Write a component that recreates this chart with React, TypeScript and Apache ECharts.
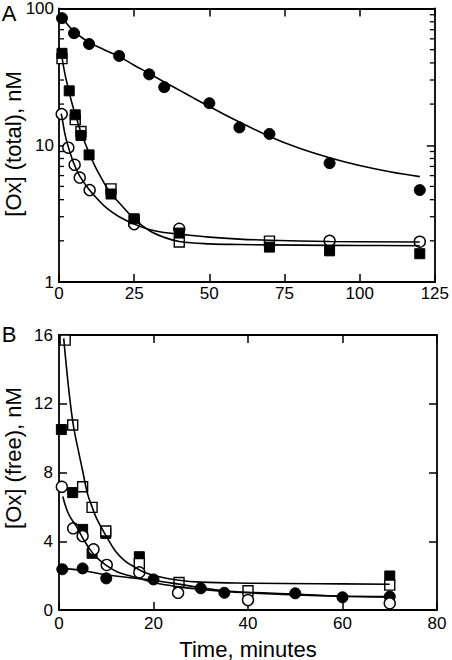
import React, { useEffect, useRef } from "react";
import * as echarts from "echarts";

// ---------- Panel A : [Ox] (total), nM  (log scale) ----------
const aFilledCircleT = [1, 5, 10, 20, 30, 35, 50, 60, 70, 90, 120];
const aFilledCircleV = [85, 66, 55, 45, 33, 26.6, 20.3, 13.5, 12.1, 7.4, 4.7];

const aFilledSquareT = [1, 3.4, 5.4, 7.3, 10, 17.3, 25, 40, 70, 90, 120];
const aFilledSquareV = [47, 25, 16.7, 11.8, 8.5, 4.4, 2.9, 2.28, 1.8, 1.69, 1.61];

const aOpenSquareT = [1, 5.4, 7.3, 17.3, 25, 40, 70];
const aOpenSquareV = [43, 15.4, 12.6, 4.8, 2.8, 1.96, 1.99];

const aOpenCircleT = [0.9, 3.1, 5.2, 6.9, 10.2, 25, 40, 90, 120];
const aOpenCircleV = [16.9, 9.6, 7.2, 5.8, 4.7, 2.65, 2.45, 2.0, 1.97];

// fitted curves
const aFitFilledCircleT = [1, 5, 10, 15, 20, 25, 30, 35, 40, 45, 50, 55, 60, 70, 80, 90, 100, 110, 120];
const aFitFilledCircleV = [86, 68, 56.5, 50, 44.5, 38.5, 33.5, 29, 25.3, 22, 19.2, 16.8, 14.8, 11.6, 9.5, 8.1, 7.1, 6.4, 5.9];

const aFitSquareT = [1, 2, 3, 4, 5, 6, 7, 8, 10, 12, 14, 17, 20, 25, 30, 35, 40, 50, 60, 80, 100, 120];
const aFitSquareV = [44, 33, 26.5, 21.5, 18, 15.3, 13, 11.3, 8.8, 7, 5.8, 4.5, 3.8, 2.9, 2.38, 2.12, 1.98, 1.9, 1.88, 1.86, 1.85, 1.84];

const aFitOpenCircleT = [0.7, 1, 2, 3, 4, 5, 7, 10, 13, 16, 20, 25, 30, 35, 40, 50, 60, 70, 90, 120];
const aFitOpenCircleV = [17, 16, 12, 9.9, 8.4, 7.3, 5.9, 4.75, 4.0, 3.45, 3.0, 2.65, 2.42, 2.3, 2.24, 2.13, 2.06, 2.02, 1.98, 1.96];

const aMinorTicks = [2, 3, 4, 5, 6, 7, 8, 9, 20, 30, 40, 50, 60, 70, 80, 90];

// ---------- Panel B : [Ox] (free), nM ----------
const bFilledCircleT = [0.7, 5, 10, 20, 30, 35, 50, 60, 70];
const bFilledCircleV = [2.37, 2.42, 1.84, 1.78, 1.26, 1.0, 0.97, 0.74, 0.78];

const bFilledSquareT = [0.5, 2.9, 5, 7, 9.9, 17, 70];
const bFilledSquareV = [10.5, 6.83, 4.69, 3.3, 4.46, 3.1, 1.98];

const bOpenSquareT = [1.3, 2.9, 5, 7, 9.9, 17, 25.4, 40, 70];
const bOpenSquareV = [15.7, 10.76, 7.17, 5.97, 4.6, 2.7, 1.6, 1.12, 1.45];

const bOpenCircleT = [0.6, 3, 5, 7.3, 10.1, 17, 25.2, 40, 70];
const bOpenCircleV = [7.17, 4.75, 4.3, 3.53, 2.62, 2.19, 1.0, 0.58, 0.39];

const bFitSquareT = [1, 2, 3, 4, 5, 6, 7, 8, 10, 12, 14, 16, 18, 21, 25, 30, 40, 55, 70];
const bFitSquareV = [15.8, 13, 10.8, 9.4, 8.1, 6.8, 6.0, 5.3, 4.3, 3.4, 2.85, 2.5, 2.2, 1.95, 1.75, 1.62, 1.56, 1.53, 1.5];

const bFitCircleT = [0.8, 2, 3.7, 5, 6.6, 8, 10, 12.5, 15.7, 20, 25, 30, 35, 40, 50, 60, 70];
const bFitCircleV = [6.6, 5.6, 4.85, 4.2, 3.5, 3.05, 2.6, 2.2, 1.94, 1.6, 1.36, 1.2, 1.08, 1.0, 0.88, 0.8, 0.75];

const bFitFilledCircleT = [0.7, 5, 10, 15, 20, 25, 30, 35, 40, 50, 60, 70];
const bFitFilledCircleV = [2.42, 2.3, 2.05, 1.88, 1.72, 1.52, 1.3, 1.12, 1.03, 0.93, 0.8, 0.78];

// ---------- text ----------
const panelLabels = ["A", "B"];
const yTitles = ["[Ox] (total), nM", "[Ox] (free), nM"];
const xTitle = "Time, minutes";

const FONT = "'Liberation Sans', Arial, Helvetica, sans-serif";

const zip = (t: number[], v: number[]) => t.map((x, i) => [x, v[i]]);

export default function App() {
  const ref = useRef<HTMLDivElement>(null);

  useEffect(() => {
    if (!ref.current) return;
    const chart = echarts.init(ref.current, null, { renderer: "svg" });

    const axisLine = { show: true, onZero: false, lineStyle: { color: "#000", width: 1.8 } };
    const tick = { show: true, inside: true, length: 8, lineStyle: { color: "#000", width: 1.5 } };
    const label = (margin: number) => ({ margin, fontSize: 17, color: "#000", fontFamily: FONT });

    const lineSeries = (xi: number, yi: number, data: number[][]) => ({
      type: "line",
      xAxisIndex: xi,
      yAxisIndex: yi,
      data,
      smooth: 0.4,
      symbol: "none",
      showSymbol: false,
      silent: true,
      lineStyle: { color: "#000", width: 1.6, opacity: 1 },
    });
    const pts = (xi: number, yi: number, data: number[][], shape: string, filled: boolean) => ({
      type: "scatter",
      xAxisIndex: xi,
      yAxisIndex: yi,
      data,
      symbol: shape,
      symbolSize: shape === "circle" ? 11 : 10,
      silent: true,
      itemStyle: filled
        ? { color: "#000", borderColor: "#000", borderWidth: 1, opacity: 1 }
        : { color: "#fff", borderColor: "#000", borderWidth: 1.4, opacity: 1 },
    });

    const option: any = {
      animation: false,
      grid: [
        { left: 59, top: 6, width: 379, height: 276 },
        { left: 59, top: 335, width: 378, height: 275 },
      ],
      xAxis: [
        { gridIndex: 0, type: "value", position: "bottom", min: 0, max: 125, interval: 25, axisLine, axisTick: tick, axisLabel: label(3), splitLine: { show: false } },
        { gridIndex: 0, type: "value", position: "top", min: 0, max: 125, interval: 25, axisLine, axisTick: tick, axisLabel: { show: false }, splitLine: { show: false } },
        { gridIndex: 1, type: "value", position: "bottom", min: 0, max: 80, interval: 20, axisLine, axisTick: tick, axisLabel: label(5), splitLine: { show: false } },
        { gridIndex: 1, type: "value", position: "top", min: 0, max: 80, interval: 20, axisLine, axisTick: tick, axisLabel: { show: false }, splitLine: { show: false } },
      ],
      yAxis: [
        { gridIndex: 0, type: "log", logBase: 10, position: "left", min: 1, max: 100, axisLine, axisTick: tick, axisLabel: label(5), splitLine: { show: false } },
        { gridIndex: 0, type: "log", logBase: 10, position: "right", min: 1, max: 100, axisLine, axisTick: tick, axisLabel: { show: false }, splitLine: { show: false } },
        { gridIndex: 1, type: "value", position: "left", min: 0, max: 16, interval: 4, axisLine, axisTick: tick, axisLabel: label(6), splitLine: { show: false } },
        { gridIndex: 1, type: "value", position: "right", min: 0, max: 16, interval: 4, axisLine, axisTick: tick, axisLabel: { show: false }, splitLine: { show: false } },
      ],
      series: [
        {
          type: "custom",
          xAxisIndex: 0,
          yAxisIndex: 0,
          silent: true,
          clip: false,
          encode: { x: 0, y: 1 },
          data: aMinorTicks.map((v) => [0, v]),
          renderItem: (_p: any, api: any) => {
            const v = api.value(1);
            const l = api.coord([0, v]);
            const r = api.coord([125, v]);
            const st = { stroke: "#000", lineWidth: 1.3 };
            return {
              type: "group",
              children: [
                { type: "line", shape: { x1: l[0], y1: l[1], x2: l[0] + 5, y2: l[1] }, style: st },
                { type: "line", shape: { x1: r[0] - 5, y1: r[1], x2: r[0], y2: r[1] }, style: st },
              ],
            };
          },
        },
        // Panel A curves
        lineSeries(0, 0, zip(aFitFilledCircleT, aFitFilledCircleV)),
        lineSeries(0, 0, zip(aFitSquareT, aFitSquareV)),
        lineSeries(0, 0, zip(aFitOpenCircleT, aFitOpenCircleV)),
        // Panel A points
        pts(0, 0, zip(aOpenSquareT, aOpenSquareV), "rect", false),
        pts(0, 0, zip(aOpenCircleT, aOpenCircleV), "circle", false),
        pts(0, 0, zip(aFilledSquareT, aFilledSquareV), "rect", true),
        pts(0, 0, zip(aFilledCircleT, aFilledCircleV), "circle", true),
        // Panel B curves
        lineSeries(2, 2, zip(bFitSquareT, bFitSquareV)),
        lineSeries(2, 2, zip(bFitCircleT, bFitCircleV)),
        lineSeries(2, 2, zip(bFitFilledCircleT, bFitFilledCircleV)),
        // Panel B points
        pts(2, 2, zip(bFilledCircleT, bFilledCircleV), "circle", true),
        pts(2, 2, zip(bFilledSquareT, bFilledSquareV), "rect", true),
        pts(2, 2, zip(bOpenSquareT, bOpenSquareV), "rect", false),
        pts(2, 2, zip(bOpenCircleT, bOpenCircleV), "circle", false),
      ],
      graphic: [
        { type: "text", x: 9, y: 13, style: { text: panelLabels[0], font: `22px ${FONT}`, fill: "#000", align: "center", verticalAlign: "middle" } },
        { type: "text", x: 9, y: 334, style: { text: panelLabels[1], font: `22px ${FONT}`, fill: "#000", align: "center", verticalAlign: "middle" } },
        { type: "text", x: 13, y: 144, rotation: Math.PI / 2, style: { text: yTitles[0], font: `22px ${FONT}`, fill: "#000", align: "center", verticalAlign: "middle" } },
        { type: "text", x: 13, y: 458, rotation: Math.PI / 2, style: { text: yTitles[1], font: `22px ${FONT}`, fill: "#000", align: "center", verticalAlign: "middle" } },
        { type: "text", x: 248, y: 649, style: { text: xTitle, font: `22px ${FONT}`, fill: "#000", align: "center", verticalAlign: "middle" } },
      ],
    };

    chart.setOption(option);
    return () => chart.dispose();
  }, []);

  return <div ref={ref} style={{ position: "absolute", left: 0, top: 0, width: 452, height: 660 }} />;
}
